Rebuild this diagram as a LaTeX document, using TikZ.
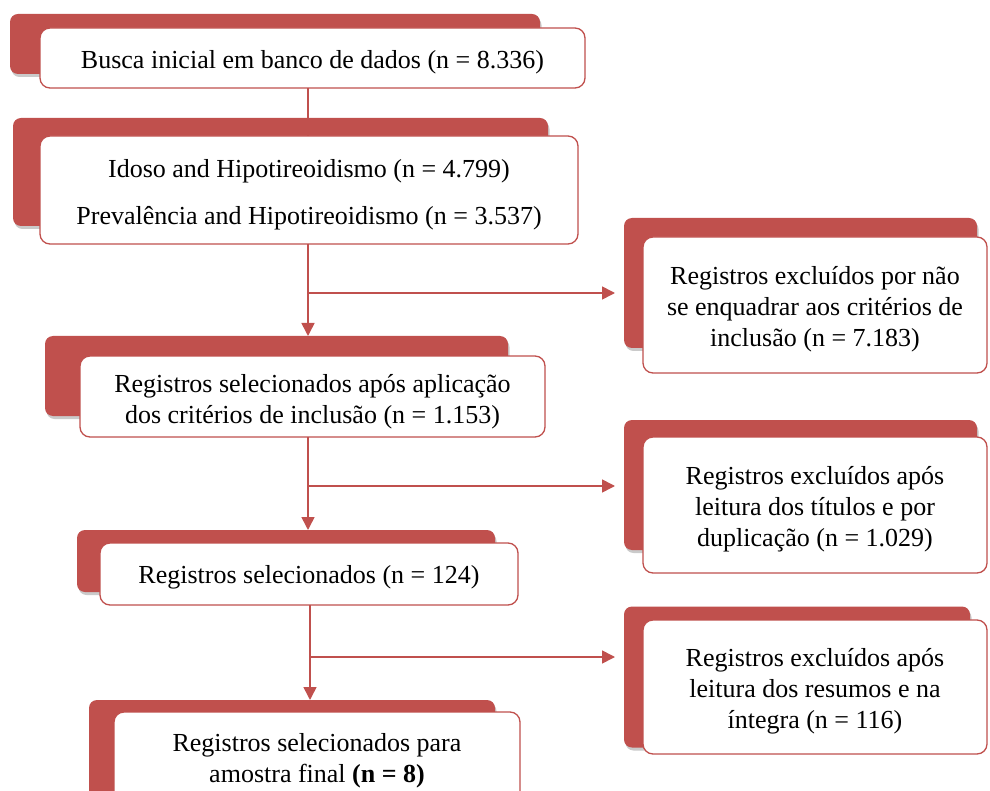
\documentclass[tikz,border=0pt]{standalone}
\usepackage{fontspec}
\setmainfont{Liberation Serif}
\usetikzlibrary{arrows.meta,shadows,calc}
\definecolor{accred}{HTML}{C0504D}
\begin{document}
\begin{tikzpicture}[x=1pt,y=-1pt,
 back/.style={fill=accred, rounded corners=8pt, inner sep=0pt, outer sep=0pt,
   drop shadow={shadow xshift=1.5pt, shadow yshift=-3pt, opacity=0.35, fill=black!60}},
 front/.style={fill=white, draw=accred, line width=1.3pt, rounded corners=10pt,
   inner sep=0pt, outer sep=0pt},
 txt/.style={align=center, inner sep=0pt, yshift=-4pt, font=\fontsize{26}{31}\selectfont},
 conn/.style={draw=accred, line width=1.6pt},
 arr/.style={conn, -{Triangle[width=13pt,length=13pt]}}]
\useasboundingbox (0,0) rectangle (990,791);
\clip (0,0) rectangle (990,791);
% box 1
\node[back, minimum width=530pt, minimum height=60pt] (b1r) at (275,44) {};
\node[front, minimum width=545pt, minimum height=60pt,
  label={[txt]center:Busca inicial em banco de dados (n = 8.336)}] (b1) at (312.5,58) {};
% box 2
\node[back, minimum width=535pt, minimum height=108pt] (b2r) at (280.5,172) {};
\node[front, minimum width=538pt, minimum height=108pt,
  label={[txt, yshift=-1pt]center:{Idoso and Hipotireoidismo (n = 4.799)\\[16pt]Prevalência and Hipotireoidismo (n = 3.537)}}] (b2) at (309,190) {};
% excl 1
\node[back, minimum width=353pt, minimum height=130pt] (e1r) at (800.5,283) {};
\node[front, minimum width=344pt, minimum height=136pt,
  label={[txt]center:{Registros excluídos por não\\se enquadrar aos critérios de\\inclusão (n = 7.183)}}] (e1) at (815,305) {};
% box 3
\node[back, minimum width=463pt, minimum height=80pt] (b3r) at (276.5,376) {};
\node[front, minimum width=465pt, minimum height=81pt,
  label={[txt, yshift=-1pt]center:{Registros selecionados após aplicação\\dos critérios de inclusão (n = 1.153)}}] (b3) at (312.5,396.5) {};
% excl 2
\node[back, minimum width=353pt, minimum height=130pt] (e2r) at (800.5,485) {};
\node[front, minimum width=344pt, minimum height=136pt,
  label={[txt]center:{Registros excluídos após\\leitura dos títulos e por\\duplicação (n = 1.029)}}] (e2) at (815,505) {};
% box 4
\node[back, minimum width=418pt, minimum height=62pt] (b4r) at (286,561) {};
\node[front, minimum width=418pt, minimum height=62pt,
  label={[txt, yshift=1pt]center:Registros selecionados (n = 124)}] (b4) at (309,574) {};
% excl 3
\node[back, minimum width=346pt, minimum height=141pt] (e3r) at (797,677) {};
\node[front, minimum width=344pt, minimum height=134pt,
  label={[txt]center:{Registros excluídos após\\leitura dos resumos e na\\íntegra (n = 116)}}] (e3) at (815,687) {};
% box 5
\node[back, minimum width=406pt, minimum height=100pt] (b5r) at (292,750) {};
\node[front, minimum width=406pt, minimum height=96pt,
  label={[txt, yshift=3pt]center:{Registros selecionados para\\amostra final \textbf{(n = 8)}}}] (b5) at (317,760) {};
% connectors
\draw[conn] (b1.south -| 308,0) -- (b2.north -| 308,0);
\coordinate (j1) at (308,293);
\coordinate (j2) at (308,486);
\coordinate (j3) at (310,657);
\draw[arr] (b2.south -| j1) -- (b3r.north -| j1);
\draw[arr, shorten >=9pt] (j1) -- (j1 -| e1r.west);
\draw[arr] (b3.south -| j2) -- (b4r.north -| j2);
\draw[arr, shorten >=9pt] (j2) -- (j2 -| e2r.west);
\draw[arr] (b4.south -| j3) -- (b5r.north -| j3);
\draw[arr, shorten >=9pt] (j3) -- (j3 -| e3r.west);
\end{tikzpicture}
\end{document}
